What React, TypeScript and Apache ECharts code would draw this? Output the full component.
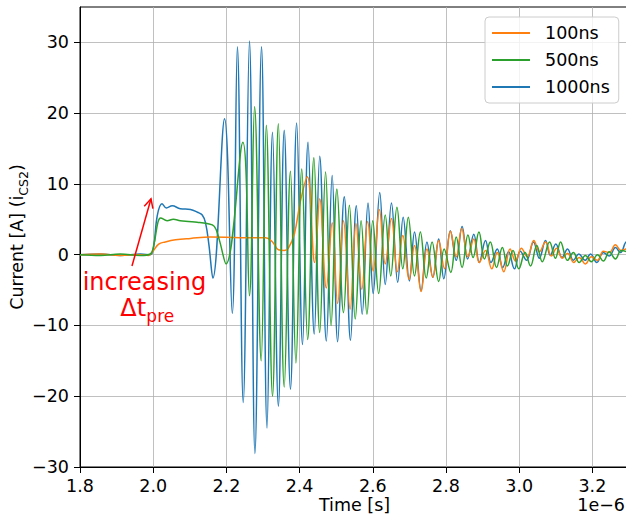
import React, { useEffect, useRef } from "react";
import * as echarts from "echarts";

// Time axis values are in units of 1e-6 s
const t1000 = [1.800, 1.856, 1.910, 1.965, 1.992, 2.001, 2.011, 2.024, 2.036, 2.052, 2.074, 2.102, 2.121, 2.134, 2.143, 2.152, 2.163, 2.195, 2.216, 2.230, 2.246, 2.263, 2.278, 2.296, 2.311, 2.326, 2.342, 2.358, 2.375, 2.392, 2.408, 2.423, 2.440, 2.455, 2.473, 2.489, 2.504, 2.522, 2.539, 2.555, 2.571, 2.587, 2.601, 2.619, 2.634, 2.651, 2.668, 2.683, 2.700, 2.714, 2.732, 2.748, 2.764, 2.780, 2.794, 2.812, 2.828, 2.844, 2.859, 2.876, 2.891, 2.908, 2.923, 2.940, 2.955, 2.971, 2.987, 3.003, 3.020, 3.039, 3.055, 3.072, 3.085, 3.100, 3.117, 3.132, 3.148, 3.163, 3.180, 3.195, 3.212, 3.230, 3.246, 3.263, 3.277, 3.293, 3.304];
const i1000 = [0.0, 0.1, -0.1, 0.1, 0.0, 1.0, 5.5, 7.2, 6.6, 6.9, 6.5, 6.4, 6.0, 5.6, 4.5, 1.5, -3.3, 19.2, -8.3, 29.4, -20.9, 30.2, -28.1, 29.4, -24.5, 17.3, -21.4, 17.6, -19.0, 18.6, -12.7, 15.9, -11.2, 13.9, -12.2, 11.2, -12.3, 8.2, -12.1, 6.9, -8.4, 7.3, -5.5, 8.8, -4.2, 7.3, -3.9, 5.3, -3.7, 3.2, -5.1, 1.8, -3.2, 2.2, -3.4, 3.4, -0.8, 4.0, -0.6, 2.9, -1.1, 2.0, -1.1, 0.8, -1.8, 0.4, -2.0, 0.5, -0.8, 1.8, -0.5, 2.0, -0.1, 1.5, -0.4, 0.8, -0.8, 0.1, -0.8, 0.1, -1.1, 0.3, -0.2, 1.0, 0.3, 1.8, 1.0];

const t500 = [1.800, 1.856, 1.910, 1.965, 1.992, 2.002, 2.013, 2.020, 2.038, 2.055, 2.074, 2.096, 2.120, 2.147, 2.167, 2.180, 2.199, 2.245, 2.263, 2.277, 2.295, 2.309, 2.326, 2.342, 2.358, 2.375, 2.390, 2.406, 2.422, 2.439, 2.455, 2.471, 2.486, 2.502, 2.520, 2.536, 2.552, 2.568, 2.584, 2.600, 2.616, 2.634, 2.649, 2.666, 2.682, 2.697, 2.714, 2.730, 2.746, 2.762, 2.780, 2.795, 2.813, 2.828, 2.844, 2.860, 2.874, 2.890, 2.905, 2.921, 2.938, 2.954, 2.968, 2.983, 2.999, 3.016, 3.031, 3.048, 3.063, 3.083, 3.099, 3.113, 3.132, 3.148, 3.164, 3.181, 3.197, 3.214, 3.230, 3.246, 3.263, 3.279, 3.304];
const i500 = [0.0, -0.1, 0.1, -0.1, 0.1, 1.5, 4.6, 5.2, 4.8, 5.0, 4.8, 4.7, 4.6, 4.4, 4.0, 2.2, -1.3, 15.9, -5.8, 20.9, -15.0, 18.3, -20.0, 18.5, -18.7, 11.8, -15.3, 12.1, -12.0, 13.7, -11.0, 11.7, -10.0, 9.3, -8.2, 7.0, -9.1, 4.8, -8.4, 4.8, -5.5, 5.6, -3.0, 6.7, -2.0, 5.3, -3.0, 3.2, -3.3, 1.8, -3.8, 0.8, -2.5, 2.5, -1.8, 2.8, -0.4, 3.2, -0.6, 1.8, -1.8, 1.0, -1.6, 0.6, -2.0, 0.3, -1.6, 1.3, -1.0, 1.8, -0.5, 1.8, -0.8, 0.3, -1.1, -0.1, -1.0, 0.0, -0.9, 0.4, -0.6, 0.6, 0.2];

const t100 = [1.800, 1.856, 1.910, 1.965, 1.987, 1.998, 2.015, 2.033, 2.061, 2.102, 2.156, 2.238, 2.307, 2.326, 2.342, 2.358, 2.369, 2.386, 2.402, 2.421, 2.441, 2.455, 2.473, 2.489, 2.504, 2.520, 2.538, 2.554, 2.570, 2.586, 2.601, 2.618, 2.634, 2.651, 2.667, 2.682, 2.699, 2.714, 2.732, 2.748, 2.764, 2.780, 2.796, 2.812, 2.828, 2.843, 2.860, 2.876, 2.891, 2.908, 2.925, 2.940, 2.958, 2.975, 2.990, 3.006, 3.022, 3.040, 3.055, 3.072, 3.088, 3.102, 3.118, 3.132, 3.149, 3.164, 3.181, 3.197, 3.214, 3.230, 3.246, 3.263, 3.278, 3.304];
const i100 = [0.0, 0.1, -0.1, 0.0, -0.1, 0.4, 1.5, 1.8, 2.1, 2.3, 2.5, 2.4, 2.4, 1.8, 0.7, 0.6, 0.9, 3.0, 7.5, 11.0, -1.1, 7.9, -4.7, 4.5, -6.9, 4.8, -7.7, 4.4, -4.9, 4.7, -2.3, 6.4, -1.3, 5.1, -2.4, 2.7, -3.5, 1.3, -5.2, 0.8, -3.2, 2.0, -2.0, 3.3, -0.3, 3.7, -0.3, 2.2, -1.1, 0.6, -2.0, 0.3, -2.4, 0.8, -0.9, 0.9, -0.3, 2.0, 0.4, 1.8, -0.2, 0.9, -0.5, 0.2, -1.1, -0.4, -1.3, -0.3, -0.8, 0.5, 0.3, 1.4, 0.6, 1.2];

const seriesNames = ["100ns", "500ns", "1000ns"];
const seriesColors = ["#ff7f0e", "#2ca02c", "#1f77b4"];
const yTickValues = [-30, -20, -10, 0, 10, 20, 30];

// annotation anchor points (data coordinates)
const arrowTail = [1.942, -1.6];
const arrowHead = [1.994, 7.9];
const annoLine1 = [1.976, -3.9];
const annoLine2 = [1.984, -7.6];

const FONT = "DejaVu Sans";

export default function App() {
  const ref = useRef<HTMLDivElement>(null);
  useEffect(() => {
    const el = ref.current as HTMLDivElement;
    const chart = echarts.init(el, undefined, { renderer: "svg" });
    const zip = (t: number[], v: number[]) => t.map((x, k) => [x, v[k]]);
    const fmtY = (v: number) => (v < 0 ? "\u2212" + Math.abs(v) : String(v));
    const mk = (name: string, color: string, t: number[], v: number[], z: number) => ({
      name,
      type: "line",
      data: zip(t, v),
      symbol: "none",
      showSymbol: false,
      smooth: 0.4,
      lineStyle: { width: 1.5, color },
      itemStyle: { color },
      z,
    });
    chart.setOption({
      animation: false,
      backgroundColor: "#ffffff",
      grid: { left: 80, right: -3, top: 7, bottom: 48, outerBoundsMode: "none", containLabel: false, show: true, borderColor: "#000", borderWidth: 1, backgroundColor: "transparent" },
      xAxis: {
        type: "value",
        min: 1.8,
        max: 3.3,
        interval: 0.2,
        name: "Time [s]",
        nameLocation: "middle",
        nameGap: 29,
        nameMoveOverlap: false,
        nameTextStyle: { fontFamily: FONT, fontSize: 17.5, color: "#000", lineHeight: 18 },
        axisLine: { show: true, onZero: false, lineStyle: { color: "#000", width: 1 } },
        axisTick: { show: true, length: 6, lineStyle: { color: "#000" } },
        axisLabel: { fontFamily: FONT, fontSize: 17.5, color: "#000", margin: 10, lineHeight: 18, showMaxLabel: false, formatter: (v: number) => v.toFixed(1) },
        splitLine: { show: true, lineStyle: { color: "#b0b0b0", width: 0.8 } },
      },
      yAxis: {
        type: "value",
        min: -30,
        max: 35,
        interval: 10,
        name: "{a|Current [A] (i}{b|CS2}{a|)}",
        nameLocation: "middle",
        nameRotate: 90,
        nameGap: 50,
        nameMoveOverlap: false,
        nameTextStyle: {
          rich: {
            a: { fontFamily: FONT, fontSize: 17.5, color: "#000", lineHeight: 26, verticalAlign: "middle" },
            b: { fontFamily: FONT, fontSize: 12.5, color: "#000", lineHeight: 16, verticalAlign: "bottom" },
          },
        },
        axisLine: { show: true, onZero: false, lineStyle: { color: "#000", width: 1 } },
        axisTick: { show: true, length: 6, lineStyle: { color: "#000" }, customValues: yTickValues },
        axisLabel: { fontFamily: FONT, fontSize: 17.5, color: "#000", margin: 11, customValues: yTickValues, formatter: fmtY },
        splitLine: { show: true, lineStyle: { color: "#b0b0b0", width: 0.8 } },
      },
      legend: {
        data: seriesNames,
        orient: "vertical",
        left: 485,
        top: 17,
        padding: [6, 9, 6, 7],
        itemWidth: 38,
        itemHeight: 2,
        icon: "rect",
        itemGap: 7,
        backgroundColor: "rgba(255,255,255,0.8)",
        borderColor: "#cccccc",
        borderWidth: 1,
        borderRadius: 4,
        textStyle: { fontFamily: FONT, fontSize: 17.5, color: "#000", lineHeight: 20, padding: [0, 0, 0, 10] },
      },
      series: [
        mk(seriesNames[2], seriesColors[2], t1000, i1000, 2),
        mk(seriesNames[0], seriesColors[0], t100, i100, 3),
        mk(seriesNames[1], seriesColors[1], t500, i500, 4),
      ],
    });

    const toPx = (c: number[]) => chart.convertToPixel({ gridIndex: 0 }, c) as number[];
    const a = toPx(arrowTail);
    const b = toPx(arrowHead);
    const dx = b[0] - a[0], dy = b[1] - a[1];
    const len = Math.sqrt(dx * dx + dy * dy);
    const ux = dx / len, uy = dy / len;
    const nx = -uy, ny = ux;
    const hl = 9, hw = 4.5;
    const l1 = toPx(annoLine1);
    const l2 = toPx(annoLine2);
    chart.setOption({
      graphic: [
        { type: "line", shape: { x1: a[0], y1: a[1], x2: b[0], y2: b[1] }, style: { stroke: "red", lineWidth: 1.5 }, z: 10 },
        {
          type: "polyline",
          shape: { points: [[b[0] - hl * ux + hw * nx, b[1] - hl * uy + hw * ny], [b[0], b[1]], [b[0] - hl * ux - hw * nx, b[1] - hl * uy - hw * ny]] },
          style: { stroke: "red", lineWidth: 1.5, fill: null },
          z: 10,
        },
        { type: "text", x: l1[0], y: l1[1], style: { text: "increasing", fill: "red", font: `24px "${FONT}"`, align: "center", verticalAlign: "middle" }, z: 10 },
        { type: "text", x: l2[0] - 27, y: l2[1], style: { text: "\u0394t", fill: "red", font: `24px "${FONT}"`, align: "left", verticalAlign: "middle" }, z: 10 },
        { type: "text", x: l2[0] - 1, y: l2[1] + 8, style: { text: "pre", fill: "red", font: `17px "${FONT}"`, align: "left", verticalAlign: "middle" }, z: 10 },
        { type: "text", right: 1, top: 496, style: { text: "1e\u22126", fill: "#000", font: `17.5px "${FONT}"` }, z: 10 },
      ],
    });
    return () => chart.dispose();
  }, []);
  return <div ref={ref} style={{ position: "fixed", left: 0, top: 0, width: 626, height: 515, background: "#fff" }} />;
}
